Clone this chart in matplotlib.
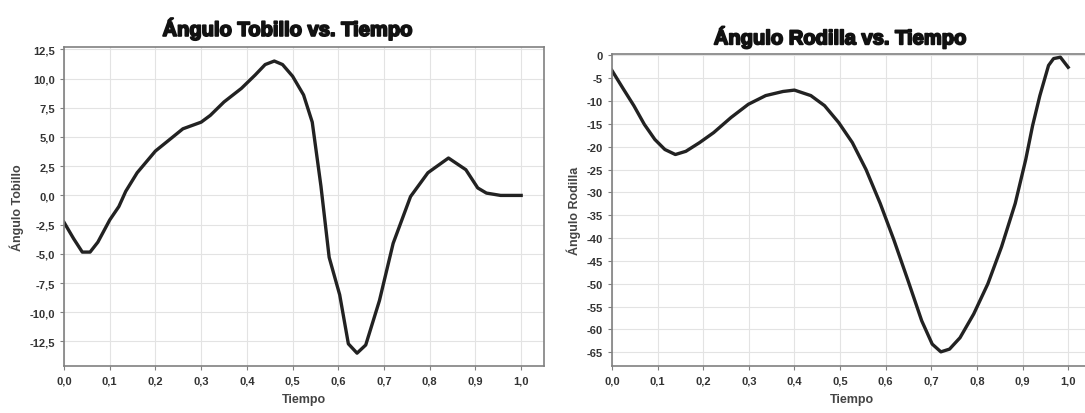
import numpy as np
import matplotlib
matplotlib.use('Agg')
import matplotlib.pyplot as plt
import matplotlib.patheffects as pe
from matplotlib.ticker import FuncFormatter

# datos
t_tobillo = [0.0, 0.021, 0.04, 0.057, 0.074, 0.10, 0.12, 0.135, 0.16, 0.20, 0.237, 0.26,
             0.30, 0.32, 0.35, 0.388, 0.418, 0.44, 0.46, 0.478, 0.50, 0.524, 0.543, 0.562,
             0.58, 0.603, 0.622, 0.641, 0.66, 0.69, 0.72, 0.758, 0.796, 0.841, 0.879,
             0.905, 0.924, 0.955, 1.0]
ang_tobillo = [-2.3, -3.7, -4.85, -4.85, -4.0, -2.1, -0.95, 0.35, 1.94, 3.8, 4.97, 5.7,
               6.27, 6.85, 8.0, 9.16, 10.3, 11.2, 11.5, 11.2, 10.2, 8.6, 6.27, 0.8,
               -5.3, -8.5, -12.7, -13.5, -12.8, -9.0, -4.1, -0.1, 1.94, 3.2, 2.2,
               0.64, 0.2, 0.0, 0.0]

t_rodilla = [0.0, 0.025, 0.048, 0.071, 0.094, 0.116, 0.139, 0.162, 0.192, 0.223, 0.261,
             0.299, 0.337, 0.375, 0.40, 0.436, 0.466, 0.497, 0.527, 0.557, 0.588, 0.618,
             0.649, 0.679, 0.702, 0.721, 0.74, 0.763, 0.793, 0.824, 0.854, 0.884, 0.907,
             0.922, 0.938, 0.957, 0.968, 0.983, 1.0]
ang_rodilla = [-3.3, -7.35, -11.0, -15.1, -18.4, -20.6, -21.7, -21.0, -19.1, -16.9, -13.6,
               -10.7, -8.8, -7.9, -7.6, -8.8, -11.0, -14.7, -19.1, -25.0, -32.4, -40.4,
               -49.3, -58.1, -63.2, -64.9, -64.3, -61.8, -56.6, -50.0, -41.9, -32.4, -22.8,
               -15.4, -8.8, -2.2, -0.7, -0.4, -2.6]

x_ticks = [0.0, 0.1, 0.2, 0.3, 0.4, 0.5, 0.6, 0.7, 0.8, 0.9, 1.0]
y_ticks_tobillo = [12.5, 10.0, 7.5, 5.0, 2.5, 0.0, -2.5, -5.0, -7.5, -10.0, -12.5]
y_ticks_rodilla = [0, -5, -10, -15, -20, -25, -30, -35, -40, -45, -50, -55, -60, -65]

fig = plt.figure(figsize=(10.85, 4.14), dpi=100)
ax1 = fig.add_axes([0.059, 0.1135, 0.4424, 0.7705])
ax2 = fig.add_axes([0.564, 0.1135, 0.4415, 0.7536])

coma1 = FuncFormatter(lambda v, p: f"{v:.1f}".replace('.', ','))
coma0 = FuncFormatter(lambda v, p: f"{v:.0f}")

def estilo(ax, titulo, ylab, yticks, ylim, yfmt, pad, tx):
    ax.set_xlim(0, 1.05)
    ax.set_ylim(*ylim)
    ax.set_xticks(x_ticks)
    ax.set_yticks(yticks)
    ax.xaxis.set_major_formatter(coma1)
    ax.yaxis.set_major_formatter(yfmt)
    ax.grid(True, color='#e3e3e3', linewidth=0.8)
    ax.set_axisbelow(True)
    for s in ['left', 'bottom', 'top', 'right']:
        ax.spines[s].set_color('#808080')
        ax.spines[s].set_linewidth(1.2)
    ax.tick_params(colors='#808080', labelcolor='#333333', length=3, width=0.8,
                   labelsize=8)
    for lbl in ax.get_xticklabels() + ax.get_yticklabels():
        lbl.set_fontweight('bold')
        lbl.set_family('Liberation Sans')
    t = ax.set_title(titulo, fontsize=14.5, fontweight='bold', family='Liberation Sans',
                     color='#111111', pad=pad, x=tx)
    t.set_path_effects([pe.withStroke(linewidth=1.3, foreground='#111111')])
    ax.set_xlabel('Tiempo', fontsize=9, fontweight='bold', family='Liberation Sans',
                  color='#444444', labelpad=6)
    ax.set_ylabel(ylab, fontsize=9, fontweight='bold', family='Liberation Sans',
                  color='#444444', labelpad=4)

ax1.plot(t_tobillo, ang_tobillo, color='#222222', linewidth=2.4)
estilo(ax1, 'Ángulo Tobillo vs. Tiempo', 'Ángulo Tobillo', y_ticks_tobillo,
       (-14.6, 12.7), coma1, 8, 0.465)

ax2.plot(t_rodilla, ang_rodilla, color='#222222', linewidth=2.4)
estilo(ax2, 'Ángulo Rodilla vs. Tiempo', 'Ángulo Rodilla', y_ticks_rodilla,
       (-68, 0.3), coma0, 7, 0.476)
ax2.spines['right'].set_visible(False)

fig.savefig('out.png', dpi=100)
